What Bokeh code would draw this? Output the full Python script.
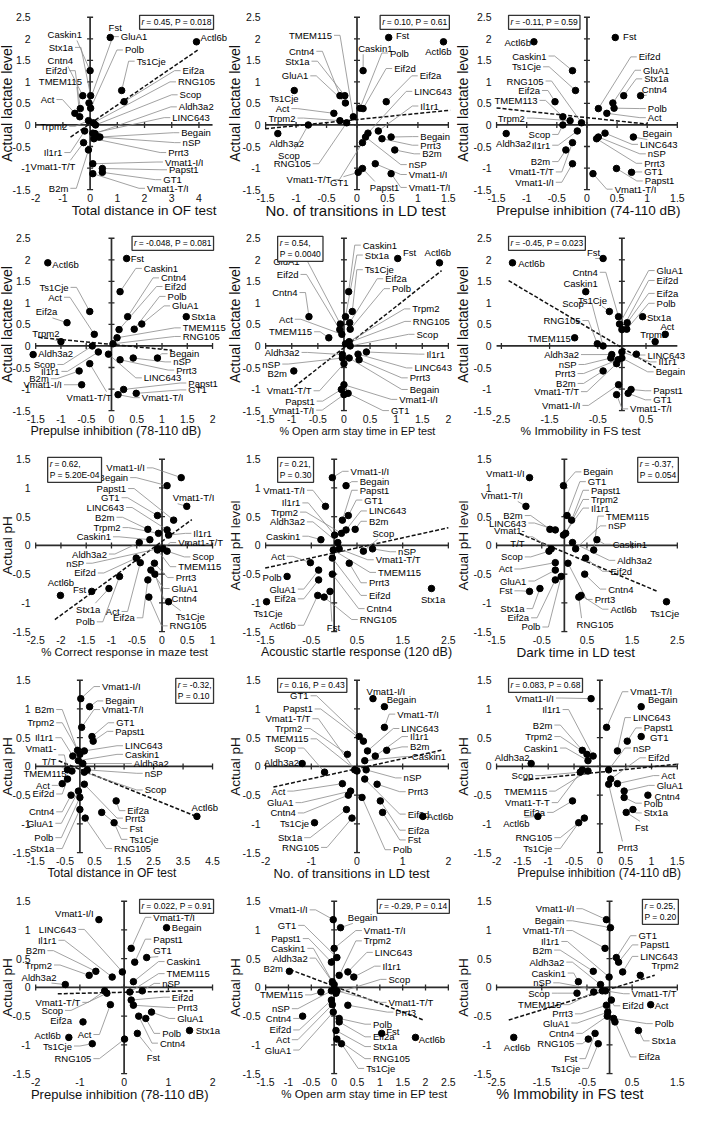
import math
from bokeh.plotting import figure
from bokeh.layouts import gridplot
from bokeh.models import Range1d, Label
from bokeh.core.properties import value
from bokeh.embed import file_html
from bokeh.resources import INLINE

FONT = "Liberation Sans"

# ---------------- data ----------------
genes = ["Actl6b", "Fst", "Caskin1", "Ts1Cje", "Cntn4", "Stx1a", "GluA1", "Eif2a", "Eif2d",
         "Polb", "Act", "TMEM115", "Trpm2", "RNG105", "Scop", "Aldh3a2", "LINC643", "Il1r1",
         "Begain", "nSP", "Prrt3", "B2m", "Vmat1-T/T", "Vmat1-I/I", "Papst1", "GT1", "Vmat1-T/I"]

lactate = [1.93, 2.03, 1.26, 0.80, 0.68, 0.68, 0.51, 0.54, 0.38, 0.39, 0.27, 0.19, 0.10, 0.05,
           0.00, -0.20, -0.19, -0.14, -0.28, -0.28, -0.32, -0.58, -0.41, -0.90, -1.01, -1.10, -1.13]
ph = [-0.87, -0.80, 0.10, -0.98, -0.50, -0.75, -0.43, -0.60, -0.22, -0.54, -0.30, -0.08, 0.21,
      -0.90, -0.10, 0.05, 0.27, 0.18, 1.04, -0.06, -0.31, 0.28, -0.06, 1.18, 0.44, 0.52, 0.68]

x_p1 = [3.91, 0.74, 0.0, 1.16, -0.27, 0.02, -0.04, 1.25, -0.36, 0.02, -0.56, -0.38, -0.06, 0.12,
        0.2, 0.18, 0.1, -0.2, 0.36, 0.3, 0.14, -0.06, -0.24, 0.1, 0.45, 0.45, 0.1]
x_p2 = [1.42, 0.52, 0.1, -1.03, -0.28, -0.2, -0.19, 0.48, 0.1, 0.05, -0.38, -0.06, -0.28, -0.17,
        -0.8, -1.3, 0.18, 0.35, 0.56, 0.14, 0.41, 0.62, 0.09, 0.3, 0.09, 0.02, 0.56]
x_p3 = [-0.88, 0.47, -0.24, -0.19, 0.89, 0.61, 0.43, -0.53, 0.19, 0.45, 0.33, -0.40, -0.28, -0.09,
        -0.4, -1.34, 0.3, -0.16, 0.77, 0.19, 0.16, -0.35, -0.24, -0.24, 0.49, 0.74, 0.1]
x_p4 = [-1.26, 0.30, 0.17, -0.43, 0.32, 1.48, 0.6, -0.88, 0.15, 0.45, -0.34, 0.11, -1.0, 0.03,
        -0.38, -1.55, -0.06, -0.26, 0.91, 0.43, 0.17, -0.64, -0.43, -0.59, 0.24, 0.49, 0.13]
x_p5 = [1.83, 1.03, 0.09, 0.16, -0.67, 0.03, -0.07, 0.11, -0.08, 0.12, -0.04, -0.29, 0.1, 0.03,
        0.12, -0.03, 0.27, 0.43, 0.1, -0.03, 0.29, -0.96, 0.0, 0.0, -0.05, 0.08, 0.0]
x_p6 = [-2.27, -0.39, -0.75, -0.26, -0.07, 0.43, -0.05, 0.11, 0.0, 0.1, 0.9, -0.98, 0.69, -0.51,
        -0.39, -0.21, 0.3, 0.0, 0.0, -0.23, -0.08, -0.39, -0.11, -0.07, 0.19, 0.13, -0.11]
x_p7 = [-2.01, -1.39, -0.24, 0.13, -0.14, -1.05, -0.22, -0.28, -0.51, -0.84, -0.43, -0.09, -0.07,
        -0.26, 0.1, -0.45, 0.1, 0.13, 0.1, -0.09, -0.15, -0.28, 0.02, 0.38, 0.23, -0.09, 0.49]
x_p8 = [-0.36, -0.09, -0.29, -1.48, -0.04, 2.13, -0.34, -0.34, -0.04, -1.03, -0.52, -0.02, 0.16,
        -0.22, 0.64, 0.08, 0.26, 0.01, 0.26, 0.84, 0.33, 0.46, 0.11, -0.04, 0.18, 0.31, -0.19]
x_p9 = [0.37, -0.77, 0.72, 2.26, 0.45, -0.54, -0.2, -0.2, 0.47, -0.07, -0.2, 0.65, 0.03, 0.32,
        -0.34, 0.18, -0.2, -0.02, -0.02, 0.25, 0.08, -0.32, -0.29, -0.77, 0.16, 0.06, -0.85]
x_p10 = [3.97, 0.74, -0.05, 1.16, -0.3, 0.0, -0.05, 1.23, -0.42, 0.0, -0.6, -0.27, 0.0, 0.18,
         0.15, 0.1, 0.15, -0.24, 0.33, 0.25, 0.15, -0.08, -0.42, 0.03, 0.45, 0.41, 0.06]
x_p11 = [1.44, 0.56, 0.17, -0.93, -0.19, -0.23, -0.14, 0.51, 0.17, 0.11, -0.32, 0.0, -0.21, -0.11,
         -0.71, -1.2, 0.23, 0.4, 0.6, 0.2, 0.44, 0.65, -0.05, 0.35, 0.14, 0.05, 0.6]
x_p12 = [-1.2, 0.51, -0.23, -0.41, 0.93, 0.64, 0.47, -0.53, 0.21, 0.47, 0.34, -0.23, -0.25, -0.3,
         -0.38, -1.33, 0.34, -0.13, 0.8, 0.17, 0.17, -0.34, -0.34, -0.17, 0.53, 0.8, 0.13]
x_p13 = [-1.25, 0.3, 0.21, -0.72, 0.33, 1.48, 0.62, -0.93, 0.16, 0.49, -0.31, 0.13, -0.79, 0.01,
         -0.39, -1.33, -0.04, -0.27, 0.96, 0.41, 0.21, -0.64, -0.44, -0.57, 0.24, 0.51, 0.16]
x_p14 = [1.78, 1.04, -0.04, 0.16, -0.69, 0.04, -0.02, 0.11, -0.06, 0.11, -0.04, -0.29, 0.11, 0.06,
         0.04, 0.0, 0.3, 0.43, 0.14, -0.06, 0.3, -0.98, 0.06, -0.02, -0.06, 0.06, 0.0]
x_p15 = [-2.12, -0.32, -0.69, -0.25, -0.05, 0.64, -0.04, 0.12, 0.04, 0.09, 0.91, -0.35, 0.68,
         -0.47, -0.72, -0.2, 0.29, -0.01, 0.02, -0.16, -0.07, -0.36, -0.09, -0.07, 0.2, 0.15, -0.1]

# dashed fitted lines: slope, intercept, x start, x end
fit_slope = [0.432, 0.142, -0.15, -0.113, 0.957, -0.662, 0.642, 0.175, -0.33, -0.208, 0.174, 0.093, 0.017, -0.30, 0.241]
fit_icpt = [0.03, 0.125, 0.17, 0.036, -0.04, -0.04, 0.07, -0.13, -0.12, -0.05, -0.04, -0.10, -0.085, 0.02, -0.03]
fit_x0 = [-0.72, -1.51, -1.5, -1.45, -0.95, -2.35, -2.12, -1.51, -0.98, -0.72, -1.83, -1.48, -1.5, -0.97, -2.23]
fit_x1 = [4.0, 1.53, 1.0, 1.2, 1.87, 0.7, 0.59, 2.5, 2.05, 4.0, 1.85, 1.53, 1.55, 1.97, 1.0]

stats = ["0.45, P = 0.018", "0.10, P = 0.61", "-0.11, P = 0.59",
         "-0.048, P = 0.081", "0.54,\nP = 0.0040", "-0.45, P = 0.023",
         "0.62,\nP = 5.20E-04", "0.21,\nP = 0.30", "-0.37,\nP = 0.054",
         "-0.32,\nP = 0.10", "0.16, P = 0.43", "0.083, P = 0.68",
         "0.022, P = 0.91", "-0.29, P = 0.14", "0.25,\nP = 0.20"]

x_titles = ["Total distance in OF test", "No. of transitions in LD test", "Prepulse inhibition (74-110 dB)",
            "Prepulse inhibition (78-110 dB)", "% Open arm stay time in EP test", "% Immobility in FS test",
            "% Correct response in maze test", "Acoustic startle response (120 dB)", "Dark time in LD test",
            "Total distance in OF test", "No. of transitions in LD test", "Prepulse inhibition (74-110 dB)",
            "Prepulse inhibition (78-110 dB)", "% Open arm stay time in EP test", "% Immobility in FS test"]
y_titles = ["Actual lactate level"] * 6 + ["Actual pH", "Actual pH level", "Actual pH level"] + ["Actual pH"] * 6

x_ticks = [[-2, -1, 0, 1, 2, 3, 4], [-1.5, -1, -0.5, 0, 0.5, 1, 1.5], [-1.5, -1, -0.5, 0, 0.5, 1, 1.5],
           [-1.5, -1, -0.5, 0, 0.5, 1, 1.5, 2], [-1.5, -1, -0.5, 0, 0.5, 1, 1.5, 2], [-2.5, -1.5, -0.5, 0.5],
           [-2.5, -2, -1.5, -1, -0.5, 0, 0.5, 1], [-1.5, -0.5, 0.5, 1.5, 2.5], [-1.5, -0.5, 0.5, 1.5, 2.5],
           [-1.5, -0.5, 0.5, 1.5, 2.5, 3.5, 4.5], [-2, -1, 0, 1, 2], [-2, -1.5, -1, -0.5, 0, 0.5, 1, 1.5],
           [-2, -1, 0, 1, 2], [-1.5, -1, -0.5, 0, 0.5, 1, 1.5, 2, 2.5], [-2.5, -1.5, -0.5, 0.5, 1.5]]
lac_ticks = [2.5, 2, 1.5, 1, 0.5, 0, -0.5, -1, -1.5]
ph_ticks = [1.5, 1, 0.5, 0, -0.5, -1, -1.5]

# ---------------- layout (label placement, sizes) ----------------
x_lims = [(-2, 4.5), (-1.5, 1.5), (-1.5, 1.5), (-1.5, 2), (-1.5, 2), (-2.6, 1.15), (-2.5, 1), (-1.5, 2.5),
          (-1.5, 2.5), (-1.5, 4.5), (-2, 2), (-2, 1.5), (-2, 2), (-1.5, 2.5), (-2.5, 1.5)]
xt_size = [13.5, 15, 13.5, 12.5, 10.8, 11.8, 11.5, 12.5, 13.5, 12, 13, 12, 13, 11.5, 14.5]
xt_cx = [147, 130, 135, 118, 132, 127, 127, 131, 122, 114, 126, 146, 122, 139, 116]
box_side = ["R", "R", "L", "R", "L", "L", "L", "L", "R", "R", "L", "L", "R", "R", "R"]

lab = [
 {"Caskin1": (-0.30, 2.10, "r"), "Stx1a": (-0.63, 1.80, "r"), "Cntn4": (-0.63, 1.50, "r"), "Eif2d": (-0.84, 1.26, "r"),
  "TMEM115": (-0.30, 1.02, "r"), "Act": (-1.31, 0.59, "r"), "Trpm2": (-0.84, -0.03, "r"), "Il1r1": (-1.02, -0.64, "r"),
  "Vmat1-T/T": (-0.54, -0.96, "r"), "B2m": (-0.80, -1.47, "r"), "Fst": (0.68, 2.26, "L"), "GluA1": (1.13, 2.05, "l"),
  "Polb": (1.28, 1.74, "l"), "Ts1Cje": (1.71, 1.48, "l"), "Actl6b": (4.06, 2.02, "L"), "Eif2a": (3.40, 1.26, "l"),
  "RNG105": (3.23, 1.00, "l"), "Scop": (3.29, 0.70, "l"), "Aldh3a2": (3.26, 0.42, "l"), "LINC643": (3.02, 0.17, "l"),
  "Begain": (3.35, -0.18, "l"), "nSP": (3.40, -0.41, "l"), "Prrt3": (2.87, -0.64, "l"), "Vmat1-I/I": (2.75, -0.86, "l"),
  "Papst1": (2.90, -1.04, "l"), "GT1": (2.69, -1.27, "l"), "Vmat1-T/I": (2.09, -1.47, "l")},
 {"TMEM115": (-0.41, 2.08, "r"), "Cntn4": (-0.70, 1.71, "r"), "Stx1a": (-0.78, 1.48, "r"), "GluA1": (-0.80, 1.14, "r"),
  "Ts1Cje": (-0.96, 0.61, "R"), "Act": (-1.11, 0.38, "r"), "Trpm2": (-1.01, 0.16, "r"), "Aldh3a2": (-0.87, -0.42, "R"),
  "Scop": (-0.94, -0.70, "r"), "RNG105": (-0.76, -0.90, "r"), "Vmat1-T/T": (-0.42, -1.27, "r"), "GT1": (-0.14, -1.34, "r"),
  "Fst": (0.64, 2.07, "L"), "Actl6b": (1.12, 1.71, "L"), "Caskin1": (0.02, 1.78, "l"), "Polb": (0.54, 1.67, "l"),
  "Eif2d": (0.61, 1.31, "l"), "Eif2a": (1.03, 1.14, "l"), "LINC643": (0.94, 0.78, "l"), "Il1r1": (1.04, 0.44, "l"),
  "Begain": (1.04, -0.27, "l"), "Prrt3": (1.04, -0.47, "l"), "B2m": (1.07, -0.67, "l"), "nSP": (0.85, -0.92, "l"),
  "Vmat1-I/I": (0.85, -1.15, "l"), "Vmat1-T/I": (0.85, -1.45, "l"), "Papst1": (0.21, -1.45, "l")},
 {"Actl6b": (-0.93, 1.92, "R"), "Caskin1": (-0.67, 1.60, "r"), "Ts1Cje": (-0.76, 1.35, "r"), "RNG105": (-0.72, 1.02, "r"),
  "Eif2a": (-0.78, 0.80, "r"), "TMEM115": (-0.82, 0.57, "r"), "Trpm2": (-1.03, 0.16, "r"), "Aldh3a2": (-0.93, -0.43, "R"),
  "Scop": (-0.61, -0.22, "r"), "Il1r1": (-0.61, -0.47, "r"), "B2m": (-0.61, -0.85, "r"), "Vmat1-T/T": (-0.55, -1.09, "r"),
  "Vmat1-I/I": (-0.55, -1.33, "r"), "Fst": (0.60, 2.05, "L"), "Eif2d": (0.86, 1.58, "l"), "GluA1": (0.93, 1.27, "l"),
  "Stx1a": (0.95, 1.07, "l"), "Cntn4": (0.91, 0.83, "l"), "Polb": (1.01, 0.38, "l"), "Act": (1.01, 0.17, "l"),
  "Begain": (0.92, -0.20, "l"), "LINC643": (0.88, -0.45, "l"), "nSP": (1.01, -0.67, "l"), "Prrt3": (0.95, -0.89, "l"),
  "GT1": (0.95, -1.09, "l"), "Papst1": (0.96, -1.30, "l"), "Vmat1-T/I": (0.46, -1.49, "l")},
 {"Actl6b": (-1.17, 1.90, "L"), "Ts1Cje": (-0.85, 1.36, "r"), "Act": (-0.98, 1.13, "r"), "Eif2a": (-1.07, 0.79, "r"),
  "Trpm2": (-1.03, 0.28, "r"), "Aldh3a2": (-1.45, -0.18, "L"), "Scop": (-1.11, -0.43, "r"), "Il1r1": (-1.03, -0.59, "r"),
  "B2m": (-1.24, -0.76, "r"), "Vmat1-I/I": (-0.98, -0.90, "r"), "Vmat1-T/T": (0.0, -1.20, "r"), "Fst": (0.38, 2.03, "L"),
  "Caskin1": (0.64, 1.80, "l"), "Cntn4": (0.98, 1.58, "l"), "Eif2d": (1.05, 1.38, "l"), "Polb": (1.11, 1.15, "l"),
  "GluA1": (1.20, 0.93, "l"), "Stx1a": (1.58, 0.68, "L"), "TMEM115": (1.41, 0.42, "l"), "RNG105": (1.41, 0.22, "l"),
  "Begain": (1.15, -0.18, "l"), "nSP": (1.22, -0.37, "l"), "Prrt3": (1.28, -0.56, "l"), "LINC643": (0.64, -0.74, "l"),
  "Papst1": (1.52, -0.86, "l"), "GT1": (1.52, -1.02, "l"), "Vmat1-T/I": (0.60, -1.20, "l")},
 {"GluA1": (-0.85, 1.96, "r"), "Eif2d": (-0.87, 1.66, "r"), "Cntn4": (-0.89, 1.24, "r"), "Act": (-0.98, 0.62, "r"),
  "TMEM115": (-0.61, 0.33, "r"), "Aldh3a2": (-0.85, -0.15, "r"), "nSP": (-1.22, -0.42, "r"), "B2m": (-1.09, -0.65, "R"),
  "Vmat1-T/T": (-0.62, -1.04, "r"), "Papst1": (-0.56, -1.28, "r"), "Vmat1-T/I": (-0.57, -1.49, "r"),
  "Caskin1": (0.36, 2.34, "l"), "Stx1a": (0.40, 2.11, "l"), "Fst": (1.13, 2.17, "L"), "Actl6b": (2.05, 2.17, "R"),
  "Ts1Cje": (0.40, 1.77, "l"), "Eif2a": (0.79, 1.56, "l"), "Polb": (0.92, 1.33, "l"), "Trpm2": (1.31, 0.86, "l"),
  "RNG105": (1.32, 0.57, "l"), "Scop": (1.39, 0.27, "l"), "Il1r1": (1.58, -0.19, "l"), "LINC643": (1.35, -0.51, "l"),
  "Prrt3": (1.26, -0.74, "l"), "Begain": (1.26, -1.01, "l"), "Vmat1-I/I": (1.06, -1.24, "l"), "GT1": (0.90, -1.50, "l")},
 {"Actl6b": (-2.15, 1.92, "L"), "Fst": (-0.45, 2.17, "r"), "Cntn4": (-0.50, 1.71, "r"), "Caskin1": (-0.50, 1.45, "R"),
  "Ts1Cje": (-0.31, 1.06, "r"), "Scop": (-0.79, 0.99, "r"), "RNG105": (-0.86, 0.59, "r"), "TMEM115": (-1.06, 0.17, "R"),
  "Aldh3a2": (-0.89, -0.20, "r"), "nSP": (-0.94, -0.43, "r"), "Prrt3": (-0.96, -0.64, "r"), "B2m": (-0.96, -0.87, "r"),
  "Vmat1-T/T": (-0.89, -1.06, "r"), "Vmat1-I/I": (-0.86, -1.38, "r"), "GluA1": (0.72, 1.75, "l"), "Eif2d": (0.72, 1.52, "l"),
  "Eif2a": (0.72, 1.22, "l"), "Polb": (0.72, 0.99, "l"), "Stx1a": (0.52, 0.67, "L"), "Act": (0.80, 0.45, "L"),
  "Trpm2": (0.38, 0.26, "L"), "LINC643": (0.53, -0.21, "l"), "Il1r1": (0.76, -0.37, "l"), "Begain": (0.70, -0.60, "l"),
  "Papst1": (0.65, -1.04, "l"), "GT1": (0.65, -1.25, "l"), "Vmat1-T/I": (0.17, -1.46, "l")},
 {"Vmat1-I/I": (-0.34, 1.35, "r"), "Begain": (-0.67, 1.18, "r"), "Papst1": (-0.71, 0.99, "r"), "GT1": (-0.84, 0.83, "r"),
  "LINC643": (-0.75, 0.66, "r"), "B2m": (-0.94, 0.49, "r"), "Trpm2": (-0.82, 0.31, "r"), "Caskin1": (-1.01, 0.15, "r"),
  "Aldh3a2": (-1.09, -0.15, "r"), "nSP": (-1.54, -0.31, "r"), "Eif2d": (-1.31, -0.48, "r"), "Actl6b": (-1.74, -0.65, "R"),
  "Fst": (-1.50, -0.77, "R"), "Stx1a": (-1.22, -1.11, "r"), "Polb": (-1.33, -1.33, "r"), "Act": (-0.84, -1.15, "r"),
  "Eif2a": (-0.54, -1.26, "r"), "Vmat1-T/I": (0.21, 0.83, "l"), "Il1r1": (0.62, 0.21, "l"), "Vmat1-T/T": (0.32, 0.05, "l"),
  "Scop": (0.60, -0.20, "l"), "TMEM115": (0.32, -0.37, "l"), "Prrt3": (0.27, -0.56, "l"), "GluA1": (0.19, -0.75, "l"),
  "Cntn4": (0.19, -0.93, "l"), "Ts1Cje": (0.27, -1.24, "l"), "RNG105": (0.15, -1.40, "l")},
 {"Vmat1-T/I": (-0.64, 0.96, "r"), "Il1r1": (-0.74, 0.74, "r"), "Trpm2": (-0.79, 0.58, "r"), "Aldh3a2": (-0.64, 0.41, "r"),
  "Caskin1": (-0.74, 0.16, "r"), "Act": (-1.08, -0.19, "r"), "Polb": (-1.15, -0.55, "R"), "GluA1": (-0.84, -0.76, "r"),
  "Eif2a": (-0.84, -0.93, "r"), "Ts1Cje": (-1.13, -1.18, "R"), "Actl6b": (-0.84, -1.39, "r"), "Fst": (-0.16, -1.43, "l"),
  "Vmat1-I/I": (0.36, 1.29, "l"), "Begain": (0.56, 1.11, "l"), "Papst1": (0.56, 0.96, "l"), "GT1": (0.66, 0.79, "l"),
  "LINC643": (0.76, 0.60, "l"), "B2m": (0.76, 0.42, "l"), "Scop": (0.84, 0.21, "l"), "nSP": (1.40, -0.11, "l"),
  "Vmat1-T/T": (0.91, -0.25, "l"), "TMEM115": (0.96, -0.47, "l"), "Prrt3": (0.76, -0.65, "l"), "Eif2d": (0.76, -0.87, "l"),
  "Cntn4": (0.71, -1.10, "l"), "RNG105": (0.56, -1.29, "l"), "Stx1a": (1.90, -0.94, "L")},
 {"Vmat1-I/I": (-0.88, 1.26, "R"), "Vmat1-T/I": (-0.92, 0.87, "r"), "B2m": (-0.92, 0.52, "r"), "LINC643": (-0.84, 0.39, "r"),
  "Vmat1-T/T": (-0.88, 0.15, "r"), "Scop": (-0.92, -0.20, "r"), "Act": (-1.15, -0.41, "r"), "GluA1": (-0.84, -0.62, "r"),
  "Fst": (-1.15, -0.79, "r"), "Stx1a": (-0.88, -1.10, "r"), "Eif2a": (-0.78, -1.26, "r"), "Polb": (-0.53, -1.42, "r"),
  "Begain": (0.42, 1.28, "l"), "GT1": (0.52, 1.11, "l"), "Papst1": (0.59, 0.96, "l"), "Trpm2": (0.59, 0.80, "l"),
  "Il1r1": (0.59, 0.65, "l"), "TMEM115": (0.92, 0.51, "l"), "nSP": (0.97, 0.34, "l"), "Caskin1": (1.07, 0.02, "l"),
  "Aldh3a2": (1.17, -0.26, "l"), "Eif2d": (1.02, -0.45, "l"), "Cntn4": (0.97, -0.76, "l"), "Prrt3": (0.67, -0.94, "l"),
  "Actl6b": (1.02, -1.11, "l"), "RNG105": (0.27, -1.37, "l"), "Ts1Cje": (1.90, -1.18, "L")},
 {"B2m": (-0.87, 0.99, "r"), "Trpm2": (-0.87, 0.76, "r"), "Il1r1": (-0.90, 0.50, "r"), "Vmat1-T/T": (-0.80, 0.20, "r"),
  "TMEM115": (-0.45, -0.12, "r"), "Act": (-1.02, -0.33, "r"), "Eif2d": (-0.87, -0.48, "r"), "Cntn4": (-0.87, -0.79, "r"),
  "GluA1": (-0.90, -0.99, "r"), "Polb": (-0.90, -1.24, "r"), "Stx1a": (-0.87, -1.43, "r"), "Vmat1-I/I": (0.75, 1.39, "l"),
  "Begain": (0.86, 1.14, "l"), "Vmat1-T/I": (0.75, 0.99, "l"), "GT1": (1.23, 0.76, "l"), "Papst1": (1.20, 0.61, "l"),
  "LINC643": (1.53, 0.36, "l"), "Caskin1": (1.53, 0.21, "l"), "Aldh3a2": (1.83, 0.05, "l"), "nSP": (2.20, -0.12, "l"),
  "Scop": (2.20, -0.41, "l"), "Eif2a": (1.61, -0.77, "l"), "Prrt3": (1.53, -0.90, "l"), "Fst": (1.68, -1.08, "l"),
  "Ts1Cje": (1.68, -1.27, "l"), "RNG105": (1.16, -1.43, "l"), "Actl6b": (3.79, -0.71, "L")},
 {"GT1": (-1.06, 1.23, "r"), "Papst1": (-0.97, 1.00, "r"), "Vmat1-T/T": (-1.02, 0.83, "r"), "Trpm2": (-1.20, 0.66, "r"),
  "TMEM115": (-1.06, 0.48, "r"), "Scop": (-1.34, 0.32, "r"), "Aldh3a2": (-1.27, 0.07, "R"), "Act": (-1.57, -0.43, "r"),
  "GluA1": (-1.39, -0.63, "r"), "Cntn4": (-1.34, -0.81, "r"), "Ts1Cje": (-1.05, -0.99, "R"), "Stx1a": (-1.20, -1.24, "r"),
  "RNG105": (-0.83, -1.41, "r"), "Vmat1-I/I": (0.21, 1.30, "L"), "Begain": (0.65, 1.16, "L"), "Vmat1-T/I": (0.88, 0.91, "l"),
  "LINC643": (0.97, 0.66, "l"), "Il1r1": (1.16, 0.52, "l"), "B2m": (1.16, 0.34, "l"), "Caskin1": (1.20, 0.17, "l"),
  "nSP": (1.02, -0.20, "l"), "Prrt3": (1.11, -0.44, "l"), "Eif2d": (1.11, -0.83, "l"), "Actl6b": (1.53, -0.88, "L"),
  "Eif2a": (1.11, -1.11, "l"), "Fst": (1.11, -1.28, "l"), "Polb": (0.79, -1.45, "l")},
 {"Vmat1-I/I": (-0.89, 1.19, "r"), "Il1r1": (-0.76, 0.99, "r"), "B2m": (-0.92, 0.72, "r"), "Trpm2": (-0.92, 0.52, "r"),
  "Caskin1": (-0.81, 0.32, "r"), "Aldh3a2": (-1.36, 0.16, "R"), "Scop": (-1.29, -0.16, "r"), "TMEM115": (-1.02, -0.43, "r"),
  "Vmat1-T/T": (-0.97, -0.63, "r"), "Eif2a": (-1.06, -0.80, "r"), "Actl6b": (-1.36, -0.99, "r"), "RNG105": (-0.92, -1.24, "r"),
  "Ts1Cje": (-0.92, -1.43, "r"), "Vmat1-T/I": (0.59, 1.30, "l"), "Begain": (0.93, 1.16, "L"), "LINC643": (0.64, 0.85, "l"),
  "Papst1": (0.85, 0.67, "l"), "GT1": (0.97, 0.50, "L"), "nSP": (0.64, 0.32, "l"), "Eif2d": (0.93, 0.15, "l"),
  "Act": (1.19, -0.16, "l"), "GluA1": (1.10, -0.33, "l"), "Cntn4": (1.06, -0.53, "L"), "Polb": (0.85, -0.64, "l"),
  "Stx1a": (0.85, -0.81, "l"), "Fst": (0.68, -1.06, "l"), "Prrt3": (0.34, -1.41, "l")},
 {"Vmat1-I/I": (-0.69, 1.28, "R"), "LINC643": (-1.08, 1.01, "r"), "Il1r1": (-1.53, 0.82, "r"), "B2m": (-1.78, 0.64, "r"),
  "Trpm2": (-1.63, 0.39, "r"), "Aldh3a2": (-1.53, 0.18, "r"), "Vmat1-T/T": (-0.99, -0.26, "r"), "Scop": (-1.38, -0.40, "r"),
  "Eif2a": (-1.18, -0.58, "R"), "Act": (-0.74, -0.82, "r"), "Actl6b": (-1.43, -0.84, "R"), "Ts1Cje": (-1.18, -1.02, "r"),
  "RNG105": (-0.74, -1.24, "r"), "Vmat1-T/I": (0.66, 1.22, "l"), "Begain": (1.08, 1.05, "L"), "Papst1": (0.66, 0.84, "l"),
  "GT1": (0.66, 0.64, "l"), "Caskin1": (0.96, 0.45, "l"), "TMEM115": (0.96, 0.24, "l"), "nSP": (0.86, 0.07, "l"),
  "Eif2d": (1.08, -0.17, "l"), "Prrt3": (1.20, -0.35, "l"), "GluA1": (1.20, -0.54, "l"), "Polb": (0.86, -0.80, "l"),
  "Stx1a": (1.62, -0.75, "L"), "Cntn4": (0.81, -0.97, "l"), "Fst": (0.51, -1.22, "l")},
 {"Vmat1-I/I": (-0.58, 1.35, "r"), "GT1": (-0.83, 1.08, "r"), "Papst1": (-0.73, 0.85, "r"), "Caskin1": (-0.63, 0.68, "r"),
  "Aldh3a2": (-0.58, 0.51, "r"), "B2m": (-1.12, 0.33, "R"), "TMEM115": (-0.68, -0.13, "r"), "nSP": (-0.97, -0.37, "r"),
  "Cntn4": (-0.94, -0.54, "r"), "Eif2d": (-0.94, -0.74, "r"), "Act": (-0.97, -0.91, "r"), "GluA1": (-0.94, -1.09, "r"),
  "Begain": (0.30, 1.22, "l"), "Vmat1-T/I": (0.65, 0.99, "l"), "Trpm2": (0.65, 0.81, "l"), "LINC643": (0.89, 0.61, "l"),
  "Il1r1": (1.06, 0.37, "l"), "Scop": (1.19, 0.14, "l"), "Vmat1-T/T": (1.19, -0.26, "l"), "Prrt3": (1.34, -0.43, "l"),
  "Polb": (0.85, -0.64, "l"), "Fst": (1.14, -0.77, "L"), "Eif2a": (0.85, -0.86, "l"), "Actl6b": (1.85, -0.91, "L"),
  "Stx1a": (0.85, -1.03, "l"), "RNG105": (0.85, -1.24, "l"), "Ts1Cje": (0.70, -1.41, "l")},
 {"Vmat1-I/I": (-0.78, 1.37, "r"), "Begain": (-1.00, 1.16, "r"), "Vmat1-T/I": (-1.00, 0.99, "r"), "Il1r1": (-1.11, 0.80, "r"),
  "B2m": (-1.27, 0.65, "r"), "Aldh3a2": (-1.00, 0.44, "r"), "Caskin1": (-0.97, 0.25, "r"), "nSP": (-1.29, 0.08, "r"),
  "Scop": (-1.32, -0.10, "r"), "TMEM115": (-1.07, -0.30, "r"), "Prrt3": (-0.81, -0.46, "r"), "GluA1": (-0.89, -0.62, "r"),
  "Cntn4": (-0.78, -0.80, "r"), "RNG105": (-0.78, -0.98, "r"), "Fst": (-0.71, -1.24, "r"), "Ts1Cje": (-0.65, -1.41, "r"),
  "Actl6b": (-2.34, -1.04, "L"), "GT1": (0.64, 0.90, "l"), "Papst1": (0.68, 0.74, "l"), "LINC643": (0.68, 0.54, "l"),
  "Trpm2": (0.93, 0.38, "L"), "Vmat1-T/T": (0.49, -0.11, "l"), "Eif2d": (0.28, -0.32, "l"), "Act": (1.00, -0.32, "L"),
  "Polb": (1.00, -0.63, "l"), "Stx1a": (0.93, -0.93, "l"), "Eif2a": (0.64, -1.21, "l")},
]
text_over = [{}, {}, {"TMEM115": "TMEM113"}, {}, {}, {}, {}, {}, {"Vmat1-T/T": "Vmat1-\nT/T"},
             {"Vmat1-T/T": "Vmat1-\nT/T"}, {}, {"Vmat1-T/T": "Vmat1-T-T"}, {}, {}, {}]
x_series = [x_p1, x_p2, x_p3, x_p4, x_p5, x_p6, x_p7, x_p8, x_p9, x_p10, x_p11, x_p12, x_p13, x_p14, x_p15]

# ---------------- geometry ----------------
SX = 685 / 701.0
SY = 1105 / 1122.0
COL_W = [228, 228, 229]
ROW_H = 221
COL_L = [36, 38, 41]
COL_R = [217, 225, 226]
TOP, BOT = 17, 192

AW = {".": .278, ",": .278, " ": .278, "\u00a0": .278, "=": .584, "P": .667, "r": .333, "-": .333, "E": .667}
for d in "0123456789":
    AW[d] = .556


def tw(s, fs):
    return max(sum(AW.get(ch, .556) for ch in line) for line in s.split("\n")) * fs


def fmt(t):
    return f"{t:g}"


def make_panel(i):
    r, c = divmod(i, 3)
    W, H = COL_W[c], ROW_H
    xa, xb = x_lims[i]
    lac = i < 6
    ya, yb = (-1.5, 2.5) if lac else (-1.5, 1.5)
    pL, pR = COL_L[c] * SX, COL_R[c] * SX
    pT, pB = TOP * SY, BOT * SY
    kx = (pR - pL) / (xb - xa)
    ky = (pB - pT) / (yb - ya)

    def X(px):
        return xa + (px - pL) / kx

    def Y(py):
        return yb - (py - pT) / ky

    def PX(x):
        return pL + (x - xa) * kx

    def PY(y):
        return pT + (yb - y) * ky

    p = figure(width=W, height=H, x_range=Range1d(X(0), X(W)), y_range=Range1d(Y(H), Y(0)),
               x_axis_location=None, y_axis_location=None, toolbar_location=None,
               output_backend="svg", min_border=0, outline_line_color=None)
    p.xgrid.visible = False
    p.ygrid.visible = False

    xs = x_series[i]
    ys = lactate if lac else ph
    yt = lac_ticks if lac else ph_ticks
    axc = "#2b2b2b"

    # axes through origin
    p.line([xa, xb], [0, 0], line_color=axc, line_width=1.7)
    p.line([0, 0], [ya, yb], line_color=axc, line_width=1.7)
    tk = 3.0
    p.segment(x0=x_ticks[i], y0=[-tk / ky] * len(x_ticks[i]), x1=x_ticks[i], y1=[tk / ky] * len(x_ticks[i]),
              line_color=axc, line_width=1.3)
    p.segment(x0=[-tk / kx] * len(yt), y0=yt, x1=[tk / kx] * len(yt), y1=yt, line_color=axc, line_width=1.3)

    # tick labels
    p.text(x=[X(pL - 5)] * len(yt), y=yt, text=[fmt(t) for t in yt], text_align="right",
           text_baseline="middle", text_font=value(FONT), text_font_size="10.5px", text_color="#111111")
    p.text(x=x_ticks[i], y=[Y(pB + 4)] * len(x_ticks[i]), text=[fmt(t) for t in x_ticks[i]],
           text_align="center", text_baseline="top", text_font=value(FONT), text_font_size="10.5px",
           text_color="#111111")
    # titles
    p.text(x=[X(xt_cx[i] * SX)], y=[Y(213 * SY)], text=[x_titles[i]], text_align="center",
           text_baseline="middle", text_font=value(FONT), text_font_size=f"{xt_size[i]}px", text_color="#111111")
    p.text(x=[X(7 * SX)], y=[Y((TOP + BOT) / 2 * SY)], text=[y_titles[i]], angle=math.pi / 2,
           text_align="center", text_baseline="middle", text_font=value(FONT),
           text_font_size="13.5px" if not lac else "14px", text_color="#111111")

    # regression line
    fx = [fit_x0[i], fit_x1[i]]
    p.line(fx, [fit_slope[i] * v + fit_icpt[i] for v in fx], line_color="#111111", line_width=1.5,
           line_dash="4 2")

    # labels and leader lines
    lx_l, ly_l, tx_l, lx_r, ly_r, tx_r = [], [], [], [], [], []
    lead_x, lead_y = [], []
    for g, dx_, dy_ in zip(genes, xs, ys):
        lx, ly, mode = lab[i].get(g, (dx_ + 0.1, dy_, "L"))
        txt = text_over[i].get(g, g)
        if mode in ("r", "R"):
            lx_r.append(lx); ly_r.append(ly); tx_r.append(txt)
        else:
            lx_l.append(lx); ly_l.append(ly); tx_l.append(txt)
        if mode in ("r", "l"):
            ax, ay = PX(lx), PY(ly)
            dx, dy = PX(dx_), PY(dy_)
            sgn = 1 if mode == "r" else -1
            if sgn * (dx - ax) > 10:
                pts = [(ax + sgn * 2, ay), (ax + sgn * 8, ay), (dx, dy)]
            else:
                sy_ = ay + 6 if dy > ay else ay - 6
                pts = [(ax - sgn * 5, sy_), (dx, dy)]
            lead_x.append([X(a) for a, b in pts])
            lead_y.append([Y(b) for a, b in pts])
    if lead_x:
        p.multi_line(lead_x, lead_y, line_color="#8a8a8a", line_width=0.8)
    p.scatter(xs, ys, size=6.5, fill_color="#000000", line_color="#000000")
    p.text(x=lx_r, y=ly_r, text=tx_r, text_align="right", text_baseline="middle", text_font=value(FONT),
           text_font_size="9.5px", text_color="#000000")
    p.text(x=lx_l, y=ly_l, text=tx_l, text_align="left", text_baseline="middle", text_font=value(FONT),
           text_font_size="9.5px", text_color="#000000")

    # statistics box
    fs = 8.5
    pad = 2
    body = "\u00a0\u00a0= " + stats[i]
    w = tw(body, fs)
    if box_side[i] == "R":
        left = pR - 1 - pad - w
    else:
        left = pL + 10 + pad
    top = 13 * SY + pad
    common = dict(x=X(left), y=Y(top), x_units="data", y_units="data", text_align="left",
                  text_baseline="top", text_font=FONT, text_font_size=f"{fs}px", padding=pad,
                  text_line_height=1.1)
    p.add_layout(Label(text=body, border_line_color="#333333", border_line_width=1.3,
                       background_fill_color="white", text_color="#000000", **common))
    p.add_layout(Label(text="r", text_font_style="italic", text_color="#000000", **common))
    return p


figs = [make_panel(i) for i in range(15)]
grid = gridplot([figs[k:k + 3] for k in range(0, 15, 3)], toolbar_location=None)
open("out.html", "w").write(file_html(grid, INLINE))
